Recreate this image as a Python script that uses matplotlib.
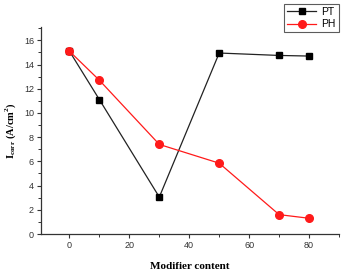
import matplotlib
matplotlib.use('Agg')
import matplotlib.pyplot as plt
from matplotlib.ticker import MultipleLocator

# modifier content and corrosion current density
x_content = [0, 10, 30, 50, 70, 80]
pt_icorr = [15.1, 11.1, 3.05, 14.95, 14.75, 14.7]
ph_icorr = [15.1, 12.7, 7.4, 5.85, 1.6, 1.3]

plt.rcParams['mathtext.fontset'] = 'custom'
plt.rcParams['mathtext.rm'] = 'Liberation Serif:bold'

fig = plt.figure(figsize=(3.47, 2.79), dpi=100)
ax = fig.add_axes([41 / 347, 1 - 234 / 279, 298 / 347, 207 / 279])

ax.plot(x_content, pt_icorr, color='#222222', lw=0.9, marker='s', ms=5,
        mfc='black', mec='black', label='PT')
ax.plot(x_content, ph_icorr, color='#ff1a1a', lw=0.9, marker='o', ms=5.5,
        mfc='#ff1a1a', mec='#ff1a1a', label='PH')

ax.set_xlim(-9.5, 90)
ax.set_ylim(0, 17.1)
ax.xaxis.set_major_locator(MultipleLocator(20))
ax.xaxis.set_minor_locator(MultipleLocator(10))
ax.yaxis.set_major_locator(MultipleLocator(2))
ax.yaxis.set_minor_locator(MultipleLocator(1))

for s in ['top', 'right']:
    ax.spines[s].set_visible(False)
for s in ['left', 'bottom']:
    ax.spines[s].set_color('#333333')
    ax.spines[s].set_linewidth(0.9)

ax.tick_params(which='major', length=3, width=0.8, labelsize=6.5, colors='#333333', pad=2)
ax.tick_params(which='minor', length=2, width=0.7, colors='#333333')
for lab in ax.get_xticklabels() + ax.get_yticklabels():
    lab.set_family('Liberation Sans')

ax.set_xlabel('Modifier content', family='Liberation Serif', fontweight='bold',
              fontsize=8, labelpad=9)
ax.set_ylabel(r'I$_{\mathrm{corr}}$ (A/cm$^{\mathrm{2}}$)', family='Liberation Serif',
              fontweight='bold', fontsize=7.5, labelpad=4)

leg = ax.legend(loc='upper right', bbox_to_anchor=(339 / 347, 1 - 4 / 279),
                bbox_transform=fig.transFigure, prop={'family': 'Liberation Sans', 'size': 7.5},
                frameon=True, fancybox=False, edgecolor='#333333', borderpad=0.3,
                handlelength=2.8, handletextpad=0.5, labelspacing=0.2,
                borderaxespad=0)
leg.get_frame().set_linewidth(0.8)

fig.savefig('out.png', dpi=100)
